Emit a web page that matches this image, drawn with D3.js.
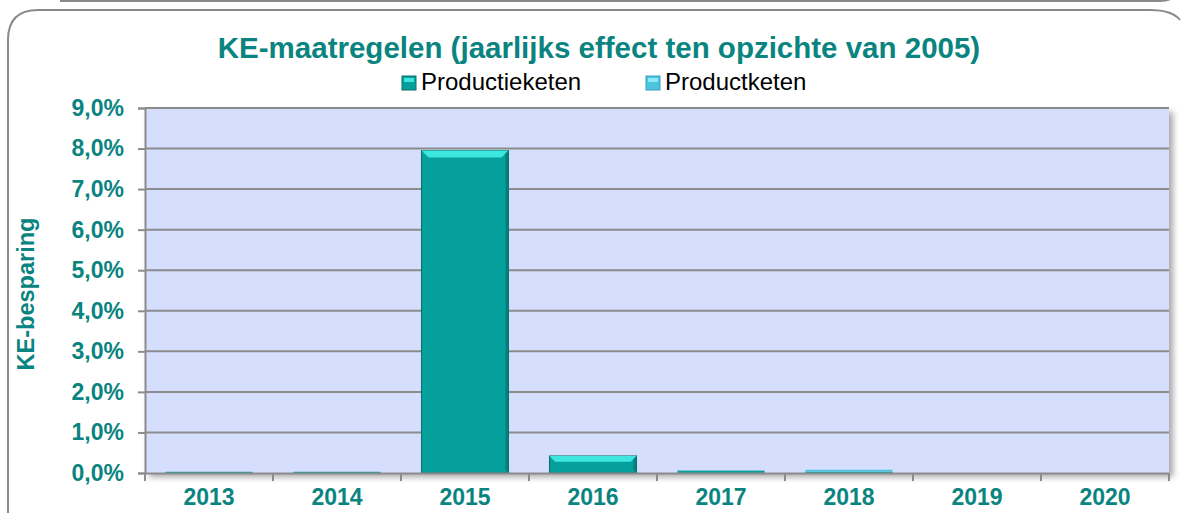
<!DOCTYPE html>
<html>
<head>
<meta charset="utf-8">
<script src="https://cdn.jsdelivr.net/npm/d3@7"></script>
<style>
  body { margin: 0; background: #fff; }
  text { font-family: "Liberation Sans", Arial, sans-serif; }
</style>
</head>
<body>
<div id="chart"></div>
<script>
var w = 1181;
var h = 513;

// data
var years = ["2013", "2014", "2015", "2016", "2017", "2018", "2019", "2020"];
var productieketen = [0.0003, 0.0003, 0.0795, 0.0042, 0.0006, 0.0003, 0, 0];
var productketen = [0, 0, 0, 0, 0, 0.0005, 0, 0];
var seriesNames = ["Productieketen", "Productketen"];
var yTicks = [0, 0.01, 0.02, 0.03, 0.04, 0.05, 0.06, 0.07, 0.08, 0.09];

var teal = "#0a8480";
var pLeft = 145, pRight = 1169, pTop = 108, pBottom = 473;

var svg = d3.select("#chart").append("svg")
    .attr("width", w)
    .attr("height", h);

var defs = svg.append("defs");
var sh = defs.append("filter").attr("id", "shadow")
    .attr("x", "-5%").attr("y", "-5%").attr("width", "110%").attr("height", "115%");
sh.append("feDropShadow").attr("dx", 4).attr("dy", 4).attr("stdDeviation", 3)
    .attr("flood-color", "#000").attr("flood-opacity", 0.35);

// outer frames
svg.append("path")
    .attr("d", "M60,1 L1160,1 Q1175,1 1178,-10")
    .attr("fill", "none").attr("stroke", "#8a8a8a").attr("stroke-width", 2);
svg.append("path")
    .attr("d", "M8,530 L8,40 Q8,10 38,10 L1150,10 Q1172,10 1180,20")
    .attr("fill", "none").attr("stroke", "#8a8a8a").attr("stroke-width", 2);

var x = d3.scaleBand().domain(years).range([pLeft, pRight]).paddingInner(0.32).paddingOuter(0.16);
var xb = d3.scaleBand().domain(years).range([pLeft, pRight]);
var y = d3.scaleLinear().domain([0, 0.09]).range([pBottom, pTop]);

// plot area
svg.append("rect")
    .attr("x", pLeft).attr("y", pTop)
    .attr("width", pRight - pLeft).attr("height", pBottom - pTop)
    .attr("fill", "#d5defc")
    .attr("filter", "url(#shadow)");

// gridlines
svg.append("g").selectAll("line")
    .data(yTicks.slice(1))
    .enter().append("line")
    .attr("x1", pLeft).attr("x2", pRight)
    .attr("y1", function(d) { return y(d); })
    .attr("y2", function(d) { return y(d); })
    .attr("stroke", "#8c8c8c").attr("stroke-width", 2);

// stacked data
var table = years.map(function(yr, i) {
    return { year: yr, Productieketen: productieketen[i], Productketen: productketen[i] };
});
var stack = d3.stack().keys(seriesNames)(table);
var fills = ["#06a09c", "#4cc4dc"];
var tops = ["#3ee6e0", "#8ee8f8"];

stack.forEach(function(layer, k) {
    var g = svg.append("g");
    layer.forEach(function(d) {
        var h0 = y(d[0]) - y(d[1]);
        if (h0 <= 0) return;
        var bx = x(d.data.year), bw = x.bandwidth(), by = y(d[1]);
        g.append("rect")
            .attr("x", bx).attr("y", by)
            .attr("width", bw).attr("height", h0)
            .attr("fill", fills[k])
            .attr("stroke", "#0a6e6b").attr("stroke-width", h0 > 3 ? 1 : 0);
        if (h0 > 6) {
            var b = Math.min(7, h0 / 3);
            g.append("path")
                .attr("d", "M" + bx + "," + by + " L" + (bx + bw) + "," + by +
                    " L" + (bx + bw - b) + "," + (by + b) + " L" + (bx + b) + "," + (by + b) + " Z")
                .attr("fill", tops[k]);
            g.append("path")
                .attr("d", "M" + (bx + bw) + "," + by + " L" + (bx + bw) + "," + (by + h0) +
                    " L" + (bx + bw - 3) + "," + (by + h0 - 3) + " L" + (bx + bw - 3) + "," + (by + 3) + " Z")
                .attr("fill", "#057f7b");
        }
    });
});

// y axis
var yAxis = svg.append("g")
    .attr("transform", "translate(" + pLeft + ",0)")
    .call(d3.axisLeft(y).tickValues(yTicks).tickSize(7).tickPadding(14)
        .tickFormat(function(d) { return d3.format(".1f")(d * 100).replace(".", ",") + "%"; }));
yAxis.select(".domain").attr("stroke", "#8c8c8c").attr("stroke-width", 2);
yAxis.selectAll(".tick line").attr("stroke", "#8c8c8c").attr("stroke-width", 2);
yAxis.selectAll("text")
    .attr("fill", teal).attr("font-size", 23).attr("font-weight", "bold")
    .attr("font-family", "Liberation Sans, Arial, sans-serif");

// x axis
var xAxis = svg.append("g")
    .attr("transform", "translate(0," + pBottom + ")")
    .call(d3.axisBottom(xb).tickSize(0).tickPadding(16));
xAxis.select(".domain").attr("stroke", "#8c8c8c").attr("stroke-width", 2);
xAxis.selectAll("text")
    .attr("fill", teal).attr("font-size", 23).attr("font-weight", "bold")
    .attr("font-family", "Liberation Sans, Arial, sans-serif");
xAxis.selectAll(".sep")
    .data(years.concat(["end"]))
    .enter().append("line")
    .attr("x1", function(d, i) { return pLeft + i * xb.bandwidth(); })
    .attr("x2", function(d, i) { return pLeft + i * xb.bandwidth(); })
    .attr("y1", 0).attr("y2", 8)
    .attr("stroke", "#8c8c8c").attr("stroke-width", 2);

// y axis title
svg.append("text")
    .attr("transform", "translate(34,294) rotate(-90)")
    .attr("text-anchor", "middle")
    .attr("fill", teal).attr("font-size", 23.5).attr("font-weight", "bold")
    .text("KE-besparing");

// title
svg.append("text")
    .attr("x", 599).attr("y", 58)
    .attr("text-anchor", "middle")
    .attr("fill", teal).attr("font-size", 29.5).attr("font-weight", "bold")
    .text("KE-maatregelen (jaarlijks effect ten opzichte van 2005)");

// legend
var legX = [402, 646];
seriesNames.forEach(function(name, i) {
    var g = svg.append("g").attr("transform", "translate(" + legX[i] + ",76)");
    g.append("rect").attr("x", 0).attr("y", 0).attr("width", 14).attr("height", 14)
        .attr("fill", fills[i]).attr("stroke", i === 0 ? "#0a6e6b" : "#3a9fc0").attr("stroke-width", 1);
    g.append("rect").attr("x", 2).attr("y", 2).attr("width", 10).attr("height", 4)
        .attr("fill", tops[i]);
    g.append("text").attr("x", 19).attr("y", 14)
        .attr("font-size", 24).attr("fill", "#000")
        .text(name);
});
</script>
</body>
</html>
